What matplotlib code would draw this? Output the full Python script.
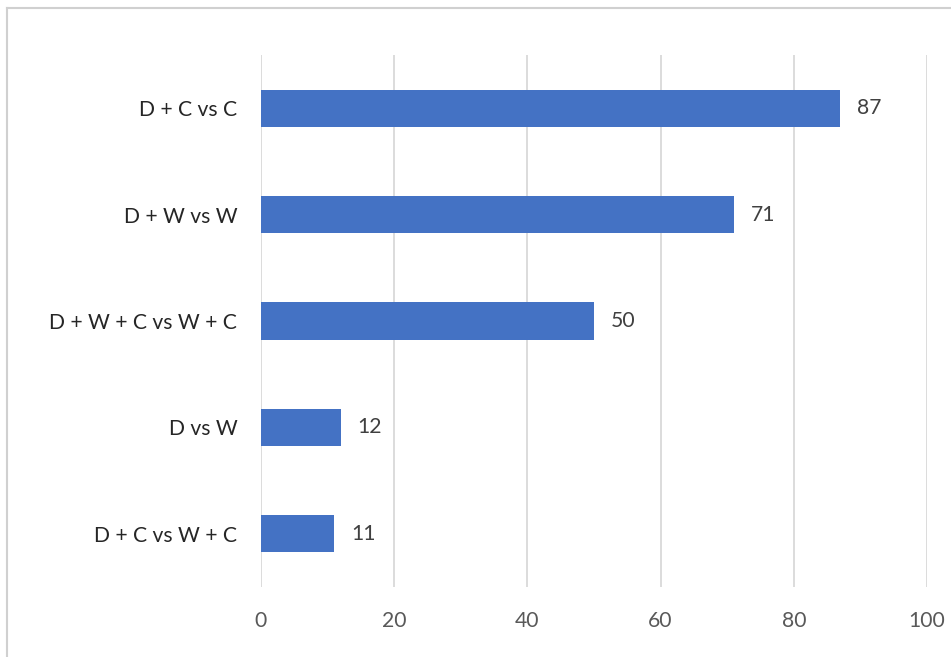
import matplotlib
matplotlib.use("Agg")
import matplotlib.pyplot as plt
from matplotlib.lines import Line2D

categories = ["D + C vs C", "D + W vs W", "D + W + C vs W + C", "D vs W", "D + C vs W + C"]
values = [87, 71, 50, 12, 11]
xticks = [0, 20, 40, 60, 80, 100]

BAR = "#4472C4"
GRID = "#D9D9D9"
FS = 15.2

plt.rcParams["font.family"] = ["Lato", "DejaVu Sans"]

fig = plt.figure(figsize=(9.51, 6.57), dpi=100)
ax = fig.add_axes([0.2744, 0.1065, 0.7004, 0.8098])

ypos = list(range(len(categories)))[::-1]
ax.barh(ypos, values, height=0.35, color=BAR, zorder=3)
for y, v in zip(ypos, values):
    ax.annotate(str(v), (v, y), xytext=(12, 0), textcoords="offset points",
                va="center", ha="left", fontsize=FS, color="#404040")

ax.set_xlim(0, 100)
ax.set_ylim(-0.5, len(categories) - 0.5)
ax.set_xticks(xticks)
ax.set_xticklabels([str(t) for t in xticks], fontsize=FS, color="#595959")
ax.set_yticks(ypos)
ax.set_yticklabels(categories, fontsize=FS, color="#262626")
ax.tick_params(axis="x", length=0, pad=17)
ax.tick_params(axis="y", length=0, pad=17)
ax.grid(axis="x", color=GRID, lw=1.3, zorder=0)
ax.grid(axis="y", visible=False)
for s in ax.spines.values():
    s.set_visible(False)

# chart frame (only top and left edges visible in the crop)
fig.add_artist(Line2D([0.0074, 1.0], [0.9878, 0.9878], color="#D0D0D0", lw=1.5))
fig.add_artist(Line2D([0.0074, 0.0074], [0.0, 0.9878], color="#D0D0D0", lw=1.5))

fig.savefig("out.png", dpi=100)
